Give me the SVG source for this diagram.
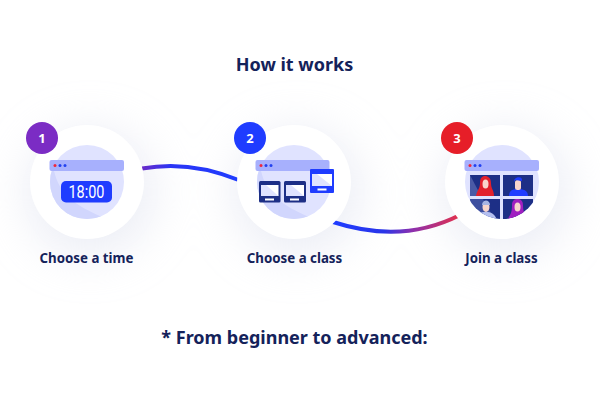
<svg xmlns="http://www.w3.org/2000/svg" width="600" height="400" viewBox="0 0 600 400">
<style>
text{font-family:"Noto Sans","Open Sans",sans-serif;font-weight:700;text-anchor:middle;fill:#14225a}
.label{font-size:13.300px}
.title{font-size:18px}
.big{font-size:18px}
.num{font-size:13px;fill:#fff}
.white{fill:#fff}
.disc{fill:#e0e3ff}
.wedge{fill:#d1d6fd}
.bar{fill:#a7b0fd}
.blue{fill:#1f3cff}
.navy{fill:#1d2f86}
.dr{fill:#f0263c}
.db{fill:#2342f0}
.conn{fill:none;stroke-width:4;stroke-linecap:butt}
</style>
<defs>
<filter id="soft" x="-80%" y="-80%" width="260%" height="260%"><feGaussianBlur stdDeviation="24"/></filter>
<linearGradient id="g1" gradientUnits="userSpaceOnUse" x1="142" y1="0" x2="238" y2="0"><stop offset="0" stop-color="#6a2bc8"/><stop offset="0.3" stop-color="#2a35f5"/><stop offset="1" stop-color="#1f3cff"/></linearGradient>
<linearGradient id="g2" gradientUnits="userSpaceOnUse" x1="335" y1="0" x2="458" y2="0"><stop offset="0" stop-color="#1f3cff"/><stop offset="0.4" stop-color="#2a35e8"/><stop offset="0.62" stop-color="#8a30b0"/><stop offset="1" stop-color="#e0304f"/></linearGradient>
<clipPath id="c1"><circle cx="87" cy="182" r="37"/></clipPath>
<clipPath id="c2"><circle cx="294" cy="182" r="37"/></clipPath>
<clipPath id="c3"><circle cx="502" cy="182" r="37"/></clipPath>
</defs>
<rect width="600" height="400" fill="#fff"/>
<g id="shadows" fill="#d5d9ea" opacity="0.5" filter="url(#soft)">
<circle cx="90" cy="192" r="62"/><circle cx="297" cy="192" r="62"/><circle cx="505" cy="192" r="62"/>
</g>
<text class="title" x="294.500" y="71">How it works</text>
<g id="connectors">
<path class="conn" stroke="url(#g1)" d="M142 168.500C172 163 205 166 240 180.500"/>
<path class="conn" stroke="url(#g2)" d="M333 222C370 234 415 238 460 215"/>
</g>
<g id="node1">
<circle class="white" cx="87" cy="182" r="57"/>
<circle class="disc" cx="87" cy="182" r="37"/>
<path class="wedge" clip-path="url(#c1)" d="M49 171H54C60 195 75 205 102 217L92 225H49Z"/>
<rect class="bar" x="49.500" y="160" width="74.500" height="11" rx="2"/>
<circle class="dr" cx="55" cy="165.500" r="1.500"/><circle class="db" cx="60" cy="165.500" r="1.500"/><circle class="db" cx="65" cy="165.500" r="1.500"/>
<rect class="blue" x="61" y="181" width="51" height="21.500" rx="5"/>
<text x="86.500" y="198" textLength="36" lengthAdjust="spacingAndGlyphs" style="font-family:'Roboto',sans-serif;font-size:18px;font-weight:400;fill:#fff">18:00</text>
<circle cx="42" cy="138" r="16" fill="#7b2cc4"/>
<text class="num" x="42" y="143">1</text>
<text class="label" x="86.500" y="263">Choose a time</text>
</g>
<g id="node2">
<circle class="white" cx="294" cy="182" r="57"/>
<circle class="disc" cx="294" cy="182" r="37"/>
<path class="wedge" clip-path="url(#c2)" d="M256 171H261C267 195 282 205 309 217L299 225H256Z"/>
<rect class="bar" x="255.500" y="160" width="74" height="11" rx="2"/>
<circle class="dr" cx="261" cy="165.500" r="1.500"/><circle class="db" cx="266" cy="165.500" r="1.500"/><circle class="db" cx="271" cy="165.500" r="1.500"/>
<rect class="navy" x="259" y="181" width="21.500" height="21.500" rx="1.500"/>
<rect class="white" x="261" y="185" width="17.500" height="11"/><path class="disc" d="M261 185H266L278.500 196H261Z"/>
<rect class="white" x="265" y="198.500" width="9" height="2"/>
<rect class="navy" x="284" y="181" width="22" height="21.500" rx="1.500"/>
<rect class="white" x="286" y="185" width="18" height="11"/><path class="disc" d="M286 185H291L304 196H286Z"/>
<rect class="white" x="290" y="198.500" width="9" height="2"/>
<rect class="blue" x="310" y="169" width="24" height="24" rx="1"/>
<rect class="white" x="312" y="174" width="20" height="12"/><path class="disc" d="M312 174H317L332 186H312Z"/>
<rect class="white" x="317.500" y="188.500" width="9" height="2"/>
<circle cx="250" cy="138" r="16" fill="#1f3cff"/>
<text class="num" x="250" y="143">2</text>
<text class="label" x="294.500" y="263">Choose a class</text>
</g>
<g id="node3">
<circle class="white" cx="502" cy="182" r="57"/>
<circle class="disc" cx="502" cy="182" r="37"/>
<rect class="bar" x="464.500" y="160" width="74.500" height="11" rx="2"/>
<circle class="dr" cx="470" cy="165.500" r="1.500"/><circle class="db" cx="475" cy="165.500" r="1.500"/><circle class="db" cx="480" cy="165.500" r="1.500"/>
<g clip-path="url(#c3)">
<rect class="navy" x="470" y="175" width="30" height="21"/>
<path d="M470 175L481 196H470Z" fill="#4a5aa6"/>
<path d="M476 196C477 190 480 189 480 183C480 178 482 176 485 176C488 176 491 178 491 183C491 189 494 190 494 196Z" fill="#e2202c"/>
<ellipse cx="485.500" cy="184" rx="3" ry="4.500" fill="#f9d5cc"/>
<rect class="navy" x="503" y="175" width="30" height="21"/>
<path d="M509 196C509 190 513 189 518 189C523 189 528 190 528 196Z" fill="#1f3cff"/>
<rect x="515" y="180" width="6" height="10" rx="2.500" fill="#f9d5cc"/>
<path d="M514 182C513 177 523 175 522 181L515 180Z" fill="#1f3cff"/>
<rect x="470" y="199" width="30" height="21" fill="#3d4f9f"/>
<path d="M483 199H500V220H495Z" fill="#1d2f86"/>
<path d="M474 220C476 213 480 212 486 212C491 212 495 214 497 220Z" fill="#b4bff0"/>
<ellipse cx="486" cy="207" rx="3.500" ry="5" fill="#f9d5cc"/>
<path d="M482 205C482 199 490 199 490 205Z" fill="#a8b4e4"/>
<rect class="navy" x="503" y="199" width="30" height="21"/>
<path d="M507 220C511 214 512 212 512 205C512 200 515 199 517 199C520 199 523 200 523 205C523 212 525 214 527 220Z" fill="#a01fc0"/>
<ellipse cx="517.500" cy="207" rx="3" ry="4.500" fill="#f9d5cc"/>
</g>
<circle cx="457" cy="138" r="16" fill="#e61e28"/>
<text class="num" x="457" y="143">3</text>
<text class="label" x="501.500" y="263">Join a class</text>
</g>
<text class="big" x="294.500" y="344">* From beginner to advanced:</text>
</svg>
